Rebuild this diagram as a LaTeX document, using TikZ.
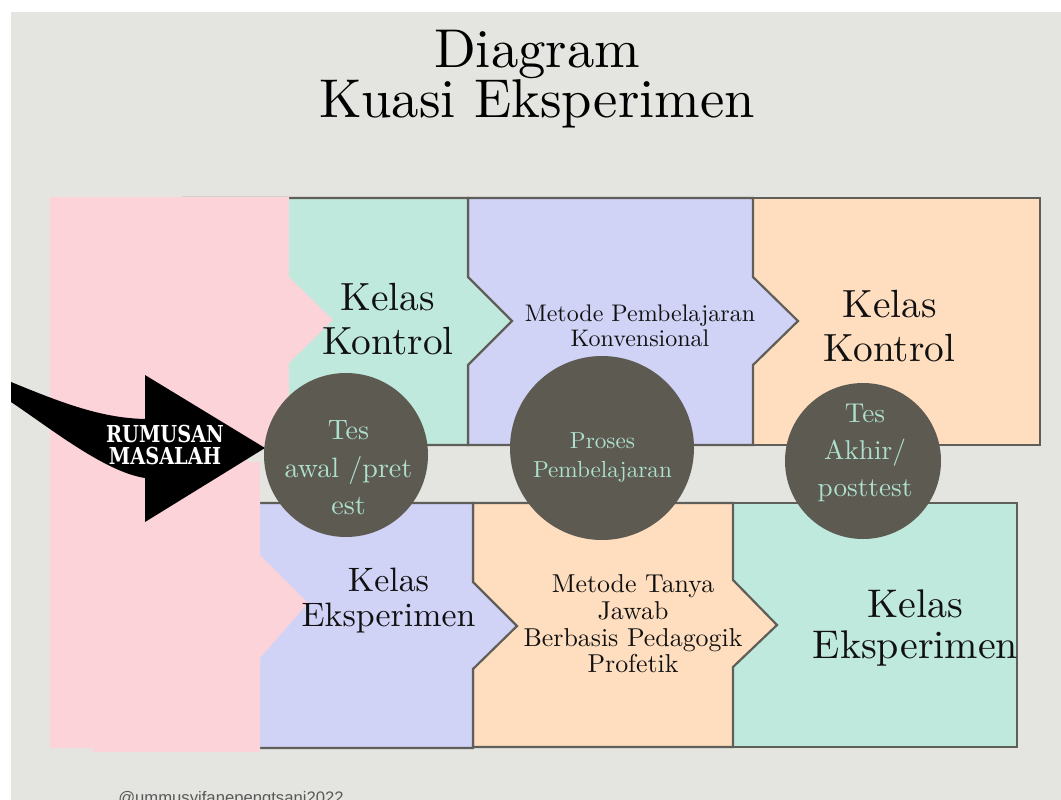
\documentclass[tikz,border=0pt]{standalone}
\usepackage{fontspec}
\setmainfont{lmroman10-regular}[Extension=.otf, BoldFont=lmroman10-bold]
\newfontfamily\slabfont{DejaVu Serif Condensed}[FakeStretch=0.92]
\newfontfamily\wmfont{Liberation Sans}
\definecolor{bgc}{HTML}{E4E4E0}
\definecolor{pinkc}{HTML}{FDD3DA}
\definecolor{mintc}{HTML}{C0E9DE}
\definecolor{lavc}{HTML}{D0D2F6}
\definecolor{peachc}{HTML}{FFDEC0}
\definecolor{borderc}{HTML}{5F5E58}
\definecolor{circc}{HTML}{5D5A52}
\definecolor{mtext}{HTML}{AEE0CE}
\definecolor{inkc}{HTML}{111111}
\begin{document}
\begin{tikzpicture}[x=0.75pt,y=-0.75pt,
  boxline/.style={draw=borderc, line width=1.65pt, line join=miter},
  txt/.style={inner sep=0pt, align=center, text=inkc},
  ctxt/.style={inner sep=0pt, align=center, text=mtext},
  disc/.style={circle, fill=circc, inner sep=0pt}]
\useasboundingbox (0,0) rectangle (1061,800);
\fill[white] (0,0) rectangle (1061,800);
\fill[bgc] (11,12) rectangle (1061,800);

% top row
\filldraw[boxline, fill=peachc] (753,198) rectangle (1040,445);
\filldraw[boxline, fill=lavc] (468,198) -- (753,198) -- (753,277) -- (798,321) -- (753,365) -- (753,445) -- (468,445) -- cycle;
\filldraw[boxline, fill=mintc] (183,198) -- (468,198) -- (468,277) -- (512,321) -- (468,365) -- (468,445) -- (183,445) -- cycle;

% bottom row
\filldraw[boxline, fill=mintc] (733,503) rectangle (1017,747);
\filldraw[boxline, fill=peachc] (473,503) -- (733,503) -- (733,580) -- (777,625) -- (733,667) -- (733,747) -- (473,747) -- cycle;
\filldraw[boxline, fill=lavc] (200,503) -- (473,503) -- (473,582) -- (517,626) -- (473,669) -- (473,748) -- (200,748) -- cycle;

% pink band
\fill[pinkc] (50,197) -- (289,197) -- (289,277) -- (333,320) -- (289,363) -- (289,449) -- (248,449) -- (248,462) -- (260,462) -- (260,555) -- (308,603) -- (260,658) -- (260,752) -- (93,752) -- (93,748) -- (50,748) -- cycle;

% curved arrow
\fill[black] (11,382) .. controls (60,402) and (100,418) .. (145,419) -- (145,375) -- (265,448) -- (145,522) -- (145,478) .. controls (105,472) and (50,428) .. (11,402) -- cycle;
\node[inner sep=0pt, align=center, text=white, font=\slabfont\bfseries\fontsize{17.5}{16.5}\selectfont] (rm) at (165,444.5) {RUMUSAN\\MASALAH};

% circles
\node[disc, minimum size=123pt] (c1) at (346,455) {};
\node[disc, minimum size=138pt] (c2) at (602,448) {};
\node[disc, minimum size=117pt] (c3) at (863,461) {};

% title
\node[txt, text=black, font=\fontsize{41}{38}\selectfont] (title) at (537,79) {Diagram\\Kuasi Eksperimen};

% box texts
\node[txt, font=\fontsize{29.5}{33}\selectfont] (kk1) at (388,319.5) {Kelas\\Kontrol};
\node[txt, font=\fontsize{18}{18.75}\selectfont] (mpk) at (640,326) {Metode Pembelajaran\\Konvensional};
\node[txt, font=\fontsize{29.5}{33}\selectfont] (kk2) at (889.5,326.5) {Kelas\\Kontrol};
\node[txt, font=\fontsize{25.4}{26.25}\selectfont] (ke1) at (388.5,601) {Kelas\\Eksperimen};
\node[txt, font=\fontsize{19.4}{20}\selectfont] (mtj) at (633,624) {Metode Tanya\\Jawab\\Berbasis Pedagogik\\Profetik};
\node[txt, font=\fontsize{30}{30.75}\selectfont] (ke2) at (915.5,627.5) {Kelas\\Eksperimen};

% circle texts
\node[ctxt, font=\fontsize{21}{28}\selectfont] (t1) at (348.5,468) {Tes\\awal /pret\\est};
\node[ctxt, font=\fontsize{17.4}{21.75}\selectfont] (t2) at (602.5,457.7) {Proses\\Pembelajaran};
\node[ctxt, font=\fontsize{20.4}{28}\selectfont] (t3) at (865,453) {Tes\\Akhir/\\posttest};

% watermark
\node[inner sep=0pt, anchor=base west, text=black!65, font=\wmfont\fontsize{12.5}{14}\selectfont] (wm) at (118,803) {@ummusyifanepengtsani2022};
\end{tikzpicture}
\end{document}
